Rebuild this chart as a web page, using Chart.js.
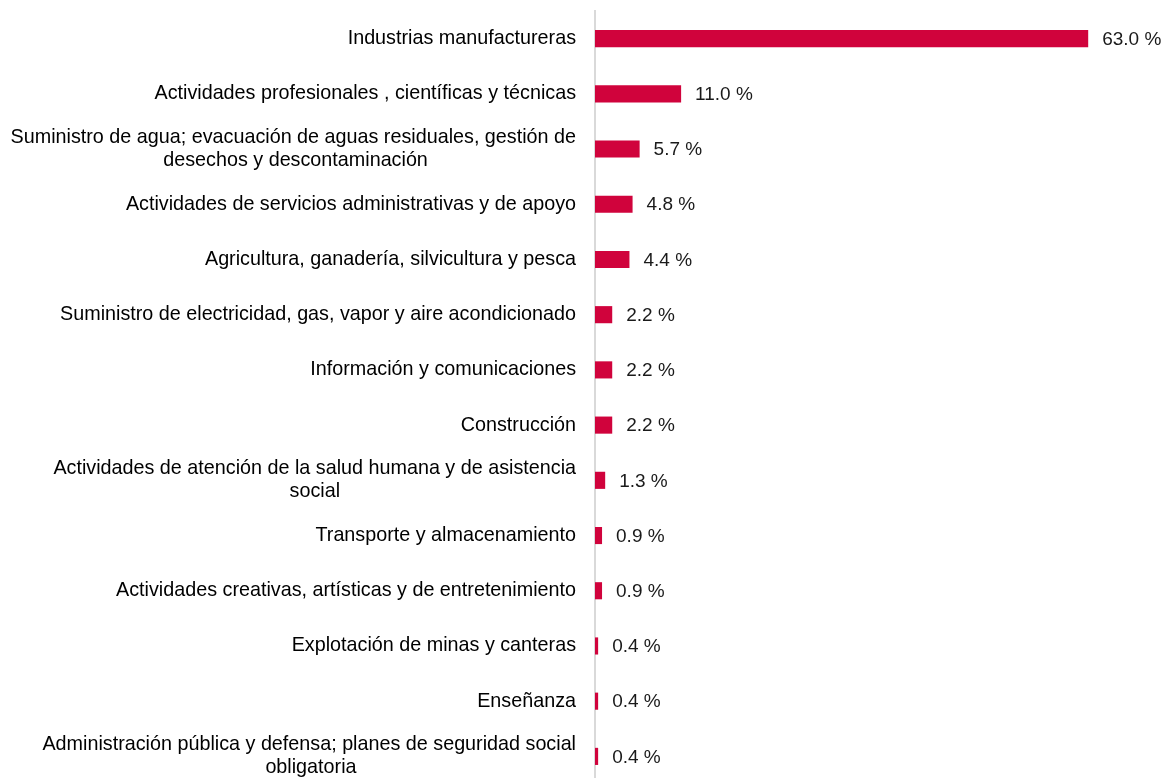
<!DOCTYPE html>
<html>
<head>
<meta charset="utf-8">
<script src="https://cdn.jsdelivr.net/npm/chart.js@4/dist/chart.umd.min.js"></script>
<style>
  html, body { margin: 0; padding: 0; background: #fff; overflow: hidden; }
  #wrap { position: relative; width: 1167px; height: 790px; }
</style>
</head>
<body>
<div id="wrap"><canvas id="chart"></canvas></div>
<script>
// categories, top to bottom (multi-line ones as arrays)
var categories = [
	'Industrias manufactureras',
	'Actividades profesionales , científicas y técnicas',
	['Suministro de agua; evacuación de aguas residuales, gestión de', 'desechos y descontaminación'],
	'Actividades de servicios administrativas y de apoyo',
	'Agricultura, ganadería, silvicultura y pesca',
	'Suministro de electricidad, gas, vapor y aire acondicionado',
	'Información y comunicaciones',
	'Construcción',
	['Actividades de atención de la salud humana y de asistencia', 'social'],
	'Transporte y almacenamiento',
	'Actividades creativas, artísticas y de entretenimiento',
	'Explotación de minas y canteras',
	'Enseñanza',
	['Administración pública y defensa; planes de seguridad social', 'obligatoria']
];
var values = [63.0, 11.0, 5.7, 4.8, 4.4, 2.2, 2.2, 2.2, 1.3, 0.9, 0.9, 0.4, 0.4, 0.4];
var valueLabels = values.map(function(v) { return v.toFixed(1) + ' %'; });

var FONT = '"Liberation Sans", Arial, sans-serif';
var FSIZE = 19.75;

// labels are right aligned, but the lines of a wrapped label are centred on each other
function centreLines(label) {
	if (!Array.isArray(label)) return label;
	var c = document.createElement('canvas').getContext('2d');
	c.font = FSIZE + 'px ' + FONT;
	var widest = 0;
	label.forEach(function(l) { widest = Math.max(widest, c.measureText(l).width); });
	var sp = c.measureText(' ').width;
	return label.map(function(l) {
		var n = Math.round((widest - c.measureText(l).width) / 2 / sp);
		return l + ' '.repeat(n);
	});
}

var valueLabelPlugin = {
	id: 'valueLabels',
	afterDatasetsDraw: function(chart) {
		var ctx = chart.ctx;
		var meta = chart.getDatasetMeta(0);
		ctx.save();
		ctx.font = '19px ' + FONT;
		ctx.fillStyle = '#1a1a1a';
		ctx.textAlign = 'left';
		ctx.textBaseline = 'middle';
		meta.data.forEach(function(bar, i) {
			ctx.fillText(valueLabels[i], bar.x + 14, bar.y + 1);
		});
		ctx.restore();
	}
};

new Chart(document.getElementById('chart'), {
	type: 'bar',
	data: {
		labels: categories.map(centreLines),
		datasets: [{
			data: values,
			backgroundColor: '#D0033C',
			borderWidth: 0,
			barPercentage: 0.31,
			categoryPercentage: 1
		}]
	},
	options: {
		indexAxis: 'y',
		responsive: true,
		maintainAspectRatio: false,
		animation: false,
		layout: { padding: { top: 11, bottom: 6, left: 0, right: 24 } },
		plugins: {
			legend: { display: false },
			tooltip: { enabled: false }
		},
		scales: {
			x: {
				display: false,
				min: 0,
				max: 70
			},
			y: {
				grid: { display: false, drawTicks: false },
				border: { display: true, color: '#D9D9D9', width: 2 },
				ticks: {
					color: '#000',
					padding: 19,
					font: { family: FONT, size: FSIZE, lineHeight: 1.17 }
				},
				afterFit: function(scale) {
					scale.width = 595;
					scale.paddingTop = 0;
					scale.paddingBottom = 0;
				}
			}
		}
	},
	plugins: [valueLabelPlugin]
});
</script>
</body>
</html>
